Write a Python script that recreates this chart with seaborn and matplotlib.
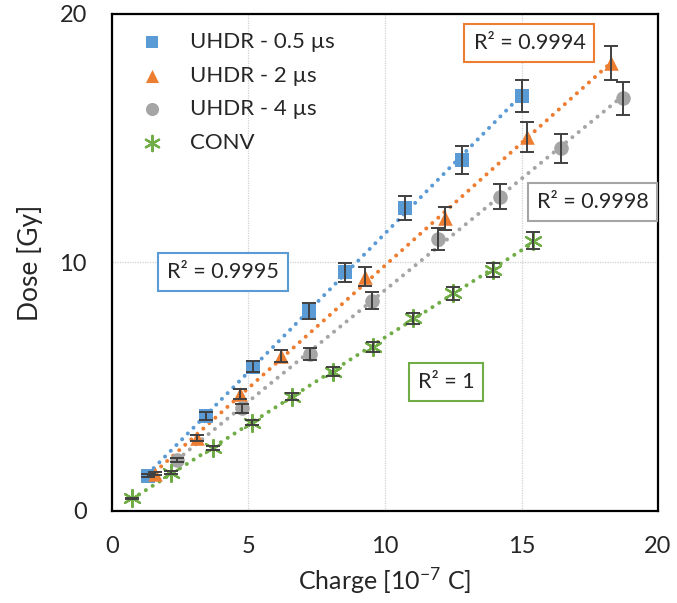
import numpy as np
import pandas as pd
import matplotlib
matplotlib.use("Agg")
import matplotlib.pyplot as plt
import seaborn as sns

# DATA
series_names = ["UHDR - 0.5 µs", "UHDR - 2 µs", "UHDR - 4 µs", "CONV"]

charge_05 = [1.32, 3.44, 5.15, 7.2, 8.53, 10.72, 12.81, 15.0]
dose_05 = [1.41, 3.83, 5.81, 8.05, 9.6, 12.18, 14.12, 16.7]
err_05 = [0.06, 0.15, 0.23, 0.32, 0.38, 0.48, 0.56, 0.66]

charge_2 = [1.58, 3.1, 4.69, 6.19, 9.27, 12.2, 15.21, 18.28]
dose_2 = [1.49, 2.95, 4.71, 6.24, 9.43, 11.78, 15.06, 18.02]
err_2 = [0.06, 0.12, 0.19, 0.25, 0.38, 0.47, 0.6, 0.68]

charge_4 = [2.39, 4.75, 7.25, 9.51, 11.93, 14.21, 16.45, 18.7]
dose_4 = [2.05, 4.13, 6.32, 8.46, 10.95, 12.65, 14.6, 16.6]
err_4 = [0.08, 0.17, 0.25, 0.34, 0.44, 0.5, 0.58, 0.67]

charge_conv = [0.74, 2.16, 3.69, 5.12, 6.58, 8.11, 9.57, 11.04, 12.5, 13.97, 15.43]
dose_conv = [0.51, 1.54, 2.52, 3.55, 4.6, 5.61, 6.61, 7.75, 8.76, 9.7, 10.88]
err_conv = [0.02, 0.05, 0.08, 0.11, 0.14, 0.17, 0.2, 0.23, 0.26, 0.29, 0.33]

r2_labels = ["R² = 0.9995", "R² = 0.9994", "R² = 0.9998", "R² = 1"]
r2_pos = [(4.06, 9.61), (15.29, 18.83), (17.6, 12.43), (12.23, 5.18)]

colors = ["#5B9BD5", "#ED7D31", "#A5A5A5", "#70AD47"]
markers = ["s", "^", "o", (6, 2, 0)]
msizes = [95, 110, 110, 150]

# long dataframe for seaborn
frames = []
for name, xs, ys, es in zip(series_names,
                            [charge_05, charge_2, charge_4, charge_conv],
                            [dose_05, dose_2, dose_4, dose_conv],
                            [err_05, err_2, err_4, err_conv]):
    frames.append(pd.DataFrame({"Charge": xs, "Dose": ys, "err": es, "series": name}))
df = pd.concat(frames, ignore_index=True)

sns.set_style("white")
plt.rcParams["font.family"] = ["Lato", "DejaVu Sans"]
plt.rcParams["mathtext.fontset"] = "custom"
plt.rcParams["mathtext.rm"] = "Lato"
plt.rcParams["mathtext.it"] = "Lato"

fig = plt.figure(figsize=(6.77, 6.03), dpi=100)
ax = fig.add_axes([0.1654, 0.1526, 0.8066, 0.8242])

# trendlines (dotted linear fits)
for i, name in enumerate(series_names):
    sub = df[df["series"] == name]
    sns.regplot(data=sub, x="Charge", y="Dose", ax=ax, scatter=False, ci=None,
                truncate=True,
                line_kws=dict(color=colors[i], lw=2.9, linestyle=(0, (0.01, 2.0)),
                              dash_capstyle="round", zorder=2))

# markers
for i, name in enumerate(series_names):
    sub = df[df["series"] == name]
    if i == 3:
        sns.scatterplot(data=sub, x="Charge", y="Dose", ax=ax, marker=markers[i],
                        s=msizes[i], color=colors[i], edgecolor=colors[i],
                        linewidth=1.6, label=name, zorder=3)
    else:
        sns.scatterplot(data=sub, x="Charge", y="Dose", ax=ax, marker=markers[i],
                        s=msizes[i], color=colors[i], linewidth=0,
                        label=name, zorder=3)

# error bars
ax.errorbar(df["Charge"], df["Dose"], yerr=df["err"], fmt="none",
            ecolor="#404040", elinewidth=1.4, capsize=5, capthick=1.4, zorder=4)

# R² boxes
for lab, (px, py), c in zip(r2_labels, r2_pos, colors):
    ax.text(px, py, lab, fontsize=15.5, ha="center", va="center", color="#262626",
            zorder=5,
            bbox=dict(boxstyle="square,pad=0.42", fc="white", ec=c, lw=1.5))

ax.set_xlim(0, 20)
ax.set_ylim(0, 20)
ax.set_xticks([0, 5, 10, 15, 20])
ax.set_yticks([0, 10, 20])
ax.grid(True, color="#d0d0d0", linestyle=(0, (1, 1)), lw=0.9)
ax.tick_params(labelsize=17, colors="#262626", length=0, pad=18)
for sp in ax.spines.values():
    sp.set_color("black")
    sp.set_linewidth(1.6)

ax.set_xlabel("Charge [10$^{-7}$ C]", fontsize=18, color="#262626", labelpad=6)
ax.set_ylabel("Dose [Gy]", fontsize=19, color="#262626", labelpad=12)

leg = ax.legend(loc="upper left", frameon=False, fontsize=16, handletextpad=0.7,
                labelspacing=0.62, borderaxespad=0.4, bbox_to_anchor=(0.0, 1.0),
                markerscale=0.9)
for t in leg.get_texts():
    t.set_color("#262626")

fig.savefig("out.png", dpi=100)
